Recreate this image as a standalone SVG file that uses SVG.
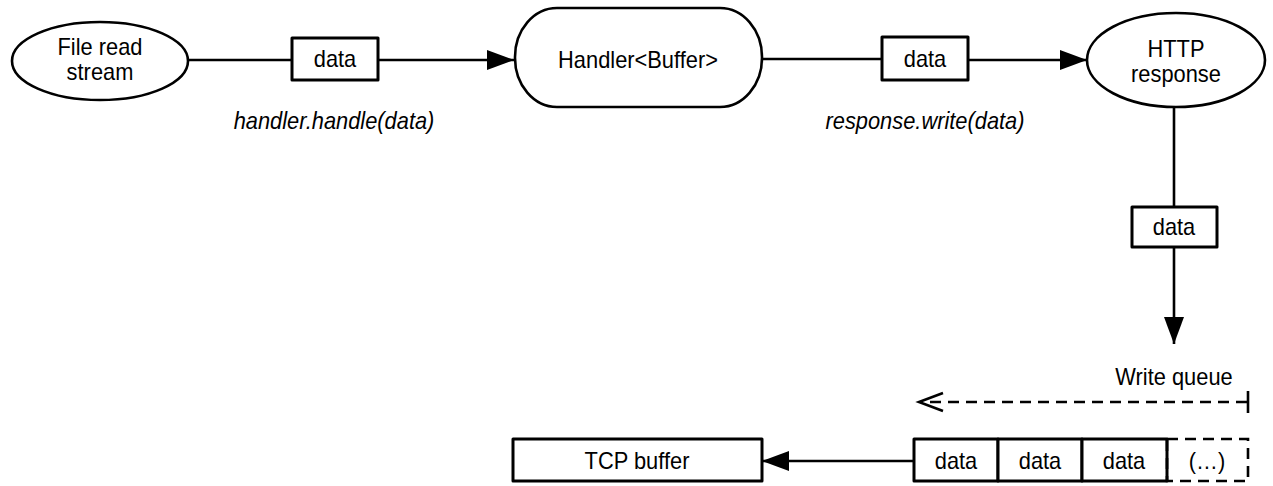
<svg xmlns="http://www.w3.org/2000/svg" width="1273" height="486" viewBox="0 0 1273 486">
<style>
.shape{fill:#fff;stroke:#000;stroke-width:2.6;stroke-linejoin:round}
.box{fill:#fff;stroke:#000;stroke-width:3;stroke-linejoin:round}
.dash{fill:none;stroke:#000;stroke-width:2.6;stroke-dasharray:11 7}
.t{font-family:"Liberation Sans",Arial,Helvetica,sans-serif;font-size:23px;fill:#000;text-anchor:middle}
.i{font-style:italic}
.c{stroke:#000;stroke-width:2.6;fill:none}
</style>
<defs>
<marker id="arr" markerUnits="userSpaceOnUse" markerWidth="28" markerHeight="22" refX="27" refY="10" orient="auto">
<path d="M0,0 L27,10 L0,20 z" fill="#000"/>
</marker>
</defs>
<g id="connectors">
<line class="c" x1="188" y1="60" x2="292" y2="60"/>
<line class="c" x1="378" y1="60" x2="514" y2="60" marker-end="url(#arr)"/>
<line class="c" x1="762" y1="59" x2="882" y2="59"/>
<line class="c" x1="968" y1="60" x2="1087" y2="60" marker-end="url(#arr)"/>
<line class="c" x1="1174" y1="106" x2="1174" y2="207"/>
<line class="c" x1="1174" y1="247" x2="1174" y2="344" marker-end="url(#arr)"/>
<line class="c" x1="914" y1="461" x2="762" y2="461" marker-end="url(#arr)"/>
<line class="dash" x1="1247" y1="402" x2="922" y2="402"/>
<path class="c" d="M943,393 L919,402 L943,411"/>
<line class="c" x1="1248" y1="391" x2="1248" y2="413"/>
</g>
<g id="file-read-stream">
<ellipse class="shape" cx="100" cy="61" rx="88" ry="39"/>
<text class="t" transform="translate(100,55) scale(0.95,1)">File read</text>
<text class="t" transform="translate(100,80) scale(0.95,1)">stream</text>
</g>
<g id="data-1">
<rect class="box" x="292" y="38" width="86" height="42"/>
<text class="t" transform="translate(335,67) scale(0.95,1)">data</text>
</g>
<g id="label-handle">
<text class="t i" transform="translate(334,129) scale(0.95,1)">handler.handle(data)</text>
</g>
<g id="handler">
<rect class="shape" x="515" y="8" width="247" height="99" rx="42" ry="49"/>
<text class="t" transform="translate(638,68) scale(0.95,1)">Handler&lt;Buffer&gt;</text>
</g>
<g id="data-2">
<rect class="box" x="882" y="37" width="86" height="43"/>
<text class="t" transform="translate(925,67) scale(0.95,1)">data</text>
</g>
<g id="label-write">
<text class="t i" transform="translate(925,129) scale(0.95,1)">response.write(data)</text>
</g>
<g id="http-response">
<ellipse class="shape" cx="1176" cy="60" rx="89" ry="47"/>
<text class="t" transform="translate(1176,57) scale(0.95,1)">HTTP</text>
<text class="t" transform="translate(1176,82) scale(0.95,1)">response</text>
</g>
<g id="data-3">
<rect class="box" x="1132" y="207" width="85" height="40"/>
<text class="t" transform="translate(1174,235) scale(0.95,1)">data</text>
</g>
<g id="write-queue">
<text class="t" transform="translate(1174,385) scale(0.95,1)">Write queue</text>
<rect class="box" x="914" y="439" width="84" height="42"/>
<text class="t" transform="translate(956,469) scale(0.95,1)">data</text>
<rect class="box" x="998" y="439" width="84" height="42"/>
<text class="t" transform="translate(1040,469) scale(0.95,1)">data</text>
<rect class="box" x="1082" y="439" width="85" height="42"/>
<text class="t" transform="translate(1124,469) scale(0.95,1)">data</text>
<rect class="dash" x="1167" y="439" width="81" height="42"/>
<text class="t" transform="translate(1207,469) scale(0.95,1)">(…)</text>
</g>
<g id="tcp-buffer">
<rect class="box" x="513" y="439" width="249" height="42"/>
<text class="t" transform="translate(637,469) scale(0.95,1)">TCP buffer</text>
</g>
</svg>
